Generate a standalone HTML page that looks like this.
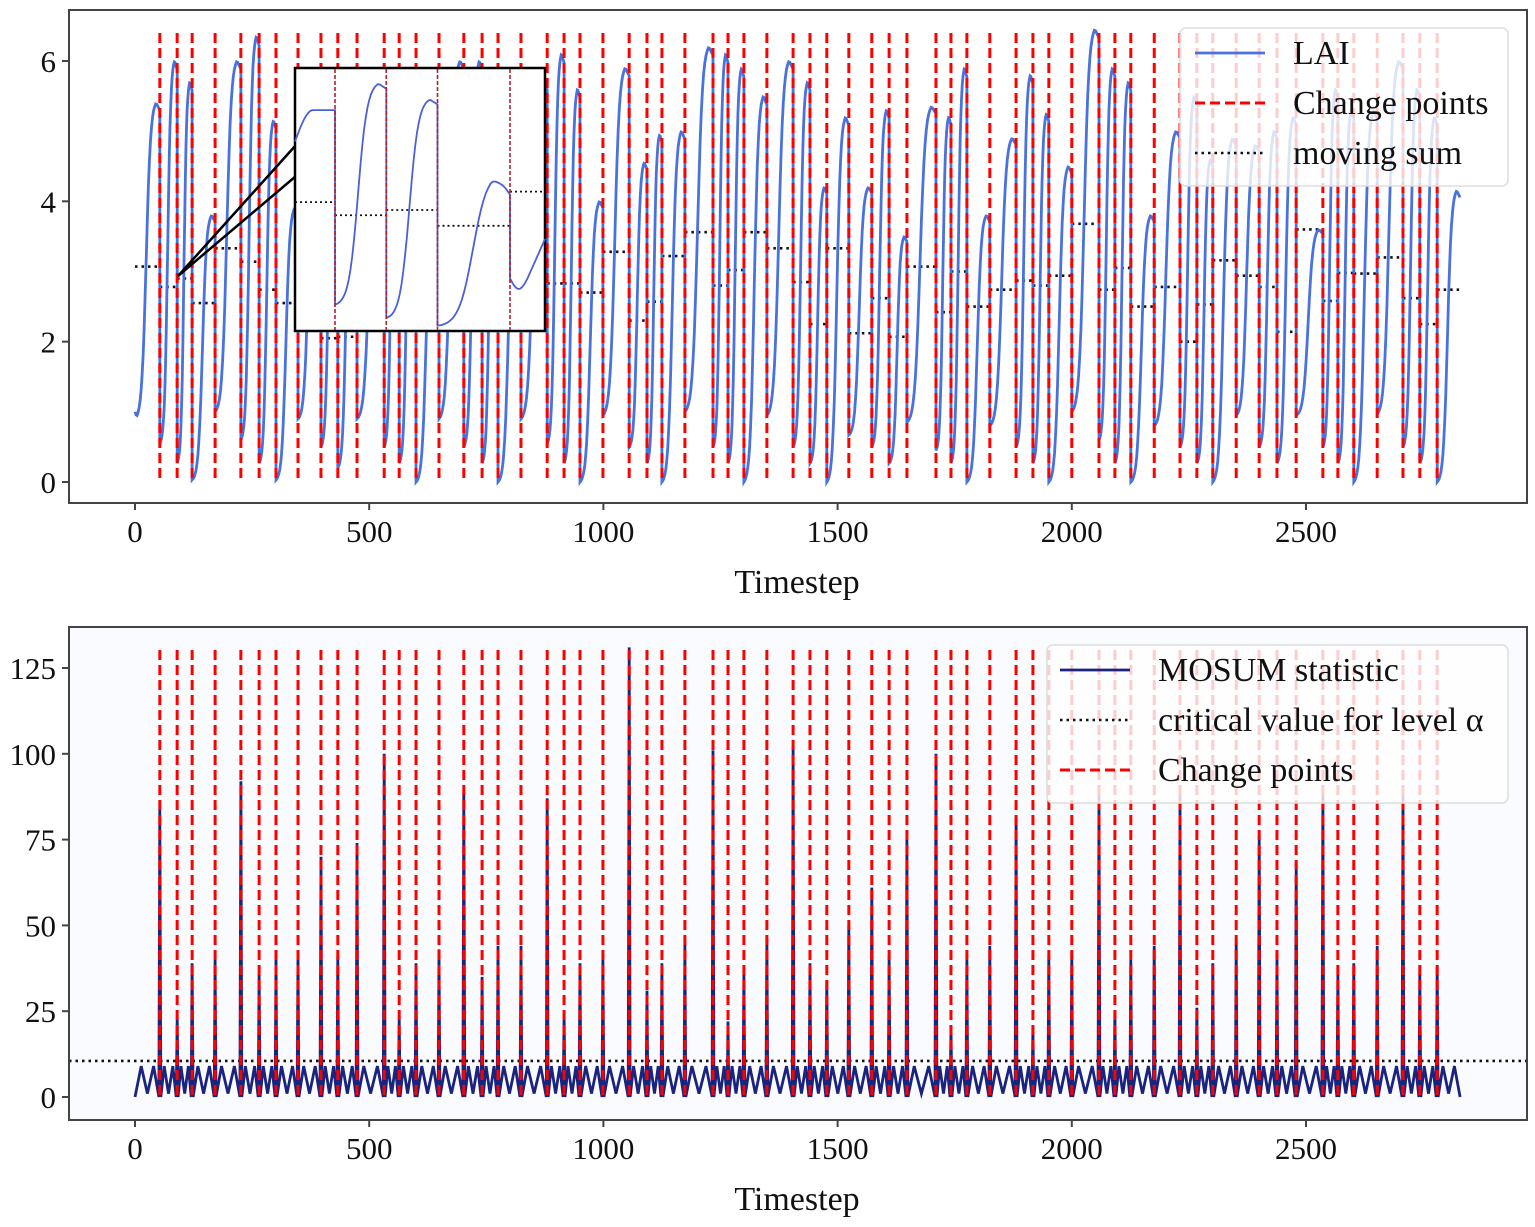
<!DOCTYPE html>
<html><head><meta charset="utf-8"><style>
html,body{margin:0;padding:0;background:#fff;}
svg{display:block;font-family:"Liberation Serif",serif;}
</style></head><body>
<svg id="chart" width="1535" height="1227" viewBox="0 0 1535 1227" xmlns="http://www.w3.org/2000/svg"></svg>
<script>
const changePoints=[53,90,122,171,226,265,301,348,397,433,474,532,564,600,649,702,741,775,824,880,916,950,999,1055,1093,1125,1174,1234,1266,1300,1349,1405,1441,1477,1524,1573,1610,1648,1710,1742,1776,1825,1881,1917,1951,2000,2058,2092,2126,2176,2231,2267,2301,2351,2400,2438,2479,2536,2568,2602,2652,2707,2743,2780];
const seriesEnd=2829;
const segLow=[0.9,.55,.27,.03,1.0,.6,.27,.03,.9,.5,.2,.9,.5,.27,0,.9,.5,.27,0,.9,.55,.27,0,.95,.5,.27,0,1.0,.5,.27,0,.95,.5,.27,0,.67,.5,.27,.85,.45,.27,0,.8,.5,.27,0,1.0,.6,.27,0,.8,.5,.27,0,.95,.5,.27,.95,.5,.27,0,.97,.5,.27,0];
const segHigh=[5.4,6.0,5.7,3.8,6.0,6.35,5.15,3.9,5.0,5.7,5.5,5.3,5.8,5.6,4.3,6.0,6.0,5.5,4.2,5.7,6.1,5.6,4.0,5.9,4.55,4.95,5.0,6.2,6.1,5.9,5.5,6.0,5.7,4.2,5.2,4.2,5.3,3.5,5.35,5.2,5.9,3.8,4.9,5.8,5.25,4.5,6.45,5.9,5.7,3.8,5.0,5.5,4.6,4.9,4.8,5.0,5.2,3.6,5.6,5.3,5.3,6.0,5.6,5.2,4.15];
const movingSum=[3.07,2.78,2.9,2.55,3.33,3.14,2.74,2.55,2.6,2.05,2.07,2.4,2.3,2.5,2.2,2.6,2.4,2.5,2.3,2.6,2.83,2.83,2.7,3.28,2.3,2.57,3.22,3.56,2.8,3.02,3.56,3.33,2.85,2.25,3.33,2.12,2.62,2.07,3.07,2.42,3.0,2.5,2.74,2.87,2.8,2.94,3.68,2.74,3.05,2.5,2.78,2.0,2.53,3.16,2.94,2.78,2.14,3.6,2.58,2.98,2.97,3.2,2.62,2.25,2.74];
const mosumPeaks=[84,23,39,40,92,36,41,42,70,41,74,100,23,39,43,89,35,44,44,87,24,39,41,131,31,39,45,101,22,36,46,102,39,34,50,61,41,75,100,20,40,44,81,20,41,42,88,25,40,44,88,26,39,45,76,41,68,88,36,39,44,88,36,38];
const archHeight=[9];
const criticalValue=[10.5];
const xTicks=[0,500,1000,1500,2000,2500];
const yTicksTop=[0,2,4,6];
const yTicksBottom=[0,25,50,75,100,125];
const insetCps=[16,36.5,57,86];
const insetLow=[0.72,0.10,0.05,0.02,0.20];
const insetHigh=[0.84,0.94,0.88,0.60,0.31];
const insetSum=[0.49,0.44,0.46,0.40,0.53];

const NS="http://www.w3.org/2000/svg";
const svg=document.getElementById('chart');
function mk(tag,attrs,parent){const e=document.createElementNS(NS,tag);for(const k in attrs)e.setAttribute(k,attrs[k]);(parent||svg).appendChild(e);return e;}
const X0=135,XS=(1306-135)/2500;
const xs=t=>X0+t*XS;
const yTop=v=>482-v*70.17;
const yBot=v=>1097-v*3.432;
const sig=u=>{const k=11,a=1/(1+Math.exp(-k*(0-0.45))),b=1/(1+Math.exp(-k*(0.85-0.45)));let s=(1/(1+Math.exp(-k*(u-0.45)))-a)/(b-a);return u<=0.85?s:1-(u-0.85)*0.15;};

// ---- TOP PANEL ----
const gTop=mk('g',{});

mk('rect',{x:69,y:10,width:1458,height:493,fill:'#fff'},gTop);
const bounds=[0].concat(changePoints).concat([seriesEnd]);
const gMs=mk('g',{},gTop);
for(let i=0;i<bounds.length-1;i++){
  const l=mk('line',{x1:xs(bounds[i]),x2:xs(bounds[i+1]),y1:yTop(movingSum[i]),y2:yTop(movingSum[i]),stroke:'#111','stroke-width':2.6,'stroke-dasharray':'2.5,4'},gMs);
  
}
let pts=[];
for(let i=0;i<bounds.length-1;i++){
  const a=bounds[i],b=bounds[i+1],lo=segLow[i],hi=segHigh[i];
  const N=24;
  for(let j=0;j<=N;j++){const u=j/N;let v=lo+(hi-lo)*sig(u);if(i===0&&u<0.15)v=Math.max(v,1.0-u*1.0);pts.push([xs(a+(b-a)*u),yTop(v)]);}
}
const lai=mk('polyline',{points:pts.map(p=>p[0].toFixed(1)+','+p[1].toFixed(1)).join(' '),fill:'none',stroke:'#4a72dd','stroke-width':2.8},gTop);

changePoints.forEach(c=>{const l=mk('line',{x1:xs(c),x2:xs(c),y1:33,y2:481,stroke:'#ff0000','stroke-width':3,'stroke-dasharray':'10,5'},gTop);
  });
mk('rect',{x:69,y:10,width:1458,height:493,fill:'none',stroke:'#444','stroke-width':2},gTop);

// ---- BOTTOM PANEL ----
const gBot=mk('g',{});

mk('rect',{x:69,y:627,width:1458,height:493,fill:'#fafbfe'},gBot);
const crit=mk('line',{x1:69,x2:1527,y1:yBot(criticalValue[0]),y2:yBot(criticalValue[0]),stroke:'#111','stroke-width':2.6,'stroke-dasharray':'2.5,4'},gBot);

let mp=[[xs(0),yBot(0)]];
for(let i=0;i<bounds.length-1;i++){
  const a=bounds[i],b=bounds[i+1],L=b-a,h=archHeight[0];
  if(i>0){mp.push([xs(a),yBot(mosumPeaks[i-1])]);mp.push([xs(a+2),yBot(0)]);}
  mp.push([xs(a+L*0.25),yBot(h)]);mp.push([xs(a+L*0.5),yBot(1)]);mp.push([xs(a+L*0.75),yBot(h)]);
  if(i<bounds.length-2)mp.push([xs(b-2),yBot(0)]);else mp.push([xs(b),yBot(0)]);
}
const mos=mk('polyline',{points:mp.map(p=>p[0].toFixed(1)+','+p[1].toFixed(1)).join(' '),fill:'none',stroke:'#1a237e','stroke-width':2.8},gBot);

changePoints.forEach(c=>{const l=mk('line',{x1:xs(c),x2:xs(c),y1:650,y2:1097,stroke:'#ff0000','stroke-width':3,'stroke-dasharray':'10,5'},gBot);
  });
mk('rect',{x:69,y:627,width:1458,height:493,fill:'none',stroke:'#444','stroke-width':2},gBot);

// ---- AXES ----
function txt(x,y,s,anchor,size,parent,name){const t=mk('text',{x:x,y:y,'text-anchor':anchor,'font-size':size,fill:'#111'},parent);t.textContent=s;return t;}
[[503,'top'],[1120,'bottom']].forEach(([yb,n])=>{
  xTicks.forEach(t=>{mk('line',{x1:xs(t),x2:xs(t),y1:yb,y2:yb+7,stroke:'#444','stroke-width':2});txt(xs(t),yb+39,String(t),'middle',31,svg,'x-tick-label');});
  txt(797,yb+90,'Timestep','middle',34,svg,'x-axis-title');
});
yTicksTop.forEach(v=>{mk('line',{x1:62,x2:69,y1:yTop(v),y2:yTop(v),stroke:'#444','stroke-width':2});txt(56,yTop(v)+11,String(v),'end',31,svg,'y-tick-label');});
yTicksBottom.forEach(v=>{mk('line',{x1:62,x2:69,y1:yBot(v),y2:yBot(v),stroke:'#444','stroke-width':2});txt(56,yBot(v)+11,String(v),'end',31,svg,'y-tick-label');});

// ---- INSET ----
const gIn=mk('g',{});
mk('line',{x1:178,y1:276,x2:296,y2:145,stroke:'#000','stroke-width':2.5},gIn);
mk('line',{x1:178,y1:276,x2:296,y2:176,stroke:'#000','stroke-width':2.5},gIn);
mk('rect',{x:295,y:68,width:250,height:263,fill:'#fff',stroke:'#000','stroke-width':2.5},gIn);
const ix=t=>295+t*2.5, iy=v=>331-v*263;
const ib=[0].concat(insetCps).concat([100]);
for(let i=0;i<ib.length-1;i++){const l=mk('line',{x1:ix(ib[i]),x2:ix(ib[i+1]),y1:iy(insetSum[i]),y2:iy(insetSum[i]),stroke:'#111','stroke-width':1.8,'stroke-dasharray':'2,3'},gIn);
  }
let ip=[];
for(let i=0;i<ib.length-1;i++){const a=ib[i],b=ib[i+1],N=30;
  for(let j=0;j<=N;j++){const u=j/N;let v;
    if(i===0)v=insetLow[0]+(insetHigh[0]-insetLow[0])*Math.min(1,Math.sin(Math.min(u*2.2,1)*Math.PI/2));
    else if(i===3){v=insetLow[3]+(insetHigh[3]-insetLow[3])*sig(u*0.92)-(u>0.75?(u-0.75)*0.3:0);}
    else if(i===4){v=insetLow[4]-0.04*Math.sin(Math.min(u*2,1)*Math.PI)+ (u>0.5?(u-0.5)*0.3:0);}
    else v=insetLow[i]+(insetHigh[i]-insetLow[i])*Math.min(1,sig(u));
    ip.push([ix(a+(b-a)*u),iy(v)]);}}
const il=mk('polyline',{points:ip.map(p=>p[0].toFixed(1)+','+p[1].toFixed(1)).join(' '),fill:'none',stroke:'#4a60d8','stroke-width':1.8},gIn);

insetCps.forEach(c=>{const l=mk('line',{x1:ix(c),x2:ix(c),y1:69,y2:330,stroke:'#b02030','stroke-width':1.6,'stroke-dasharray':'4,2'},gIn);
  });

// ---- LEGENDS ----
function legend(x,y,w,h,items,lx,tx,name){
  const g=mk('g',{});
  mk('rect',{x:x,y:y,width:w,height:h,rx:6,fill:'rgba(255,255,255,0.8)',stroke:'#ddd','stroke-width':1.5},g);
  items.forEach((it,i)=>{const yy=y+25+i*50;
    const l=mk('line',{x1:lx,x2:lx+70,y1:yy,y2:yy,stroke:it[1],'stroke-width':it[3],'stroke-dasharray':it[2]},g);
    
    txt(tx,yy+11,it[0],'start',34,g,'legend-entry');});
}
legend(1180,28,328,158,[['LAI','#4a72dd','none',2.8],['Change points','#ff0000','10,5',3],['moving sum','#111','2.5,4',2.6]],1195,1293,'top-legend');
legend(1047,645,461,158,[['MOSUM statistic','#1a237e','none',2.8],['critical value for level α','#111','2.5,4',2.6],['Change points','#ff0000','10,5',3]],1060,1158,'bottom-legend');
</script>
</body></html>
